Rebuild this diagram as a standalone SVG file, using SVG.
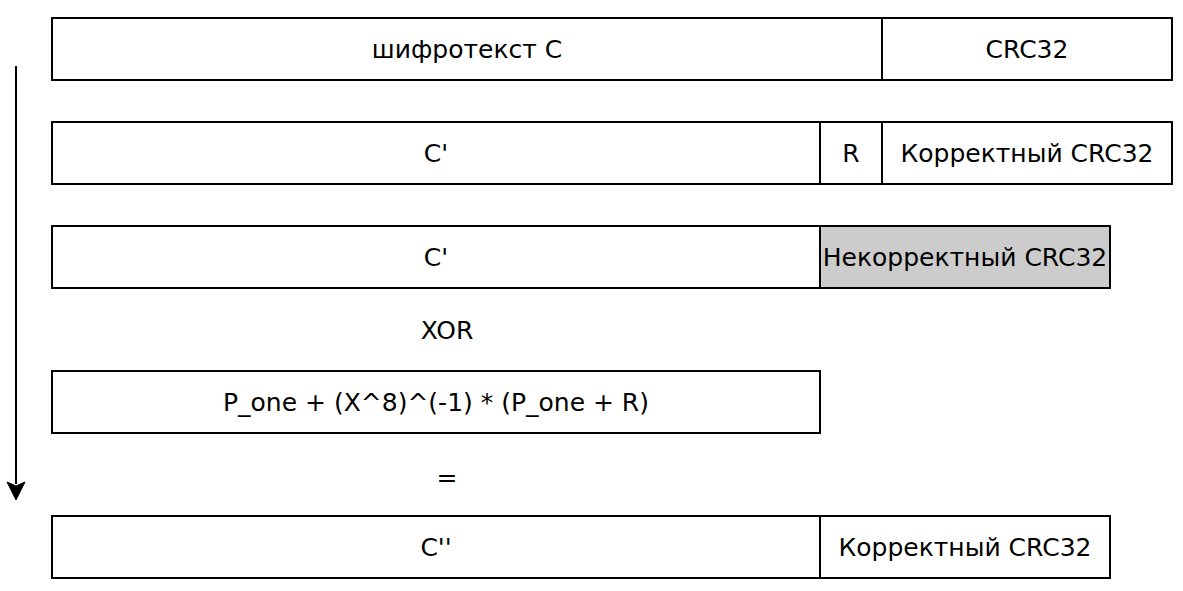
<svg xmlns="http://www.w3.org/2000/svg" width="1183" height="591" viewBox="0 0 1183 591">
<style>
.b{fill:#fff;stroke:#000;stroke-width:2}
.g{fill:#ccc;stroke:#000;stroke-width:2}
text{font-family:"DejaVu Sans",Verdana,sans-serif;font-size:25px;fill:#000;text-anchor:middle;dominant-baseline:central}
</style>
<rect width="1183" height="591" fill="#fff"/>
<g id="connectors">
<line x1="16" y1="66" x2="16" y2="484" stroke="#000" stroke-width="2"/>
<path d="M7,482 L16,500 L25,482 L16,486 Z" fill="#000" stroke="#000" stroke-width="1"/>
</g>
<g id="row1">
<rect class="b" x="52" y="18" width="830" height="62"/>
<text x="467" y="49">шифротекст С</text>
<rect class="b" x="882" y="18" width="290" height="62"/>
<text x="1027" y="49">CRC32</text>
</g>
<g id="row2">
<rect class="b" x="52" y="122" width="768" height="62"/>
<text x="436" y="153">C'</text>
<rect class="b" x="820" y="122" width="62" height="62"/>
<text x="851" y="153">R</text>
<rect class="b" x="882" y="122" width="290" height="62"/>
<text x="1027" y="153">Корректный CRC32</text>
</g>
<g id="row3">
<rect class="b" x="52" y="226" width="768" height="62"/>
<text x="436" y="257">C'</text>
<rect class="g" x="820" y="226" width="290" height="62"/>
<text x="965" y="257">Некорректный CRC32</text>
</g>
<g id="xor"><text x="447" y="330">XOR</text></g>
<g id="row4">
<rect class="b" x="52" y="371" width="768" height="62"/>
<text x="436" y="402">P_one + (X^8)^(-1) * (P_one + R)</text>
</g>
<g id="eq"><text x="447" y="477">=</text></g>
<g id="row5">
<rect class="b" x="52" y="516" width="768" height="62"/>
<text x="436" y="547">C''</text>
<rect class="b" x="820" y="516" width="290" height="62"/>
<text x="965" y="547">Корректный CRC32</text>
</g>
</svg>
